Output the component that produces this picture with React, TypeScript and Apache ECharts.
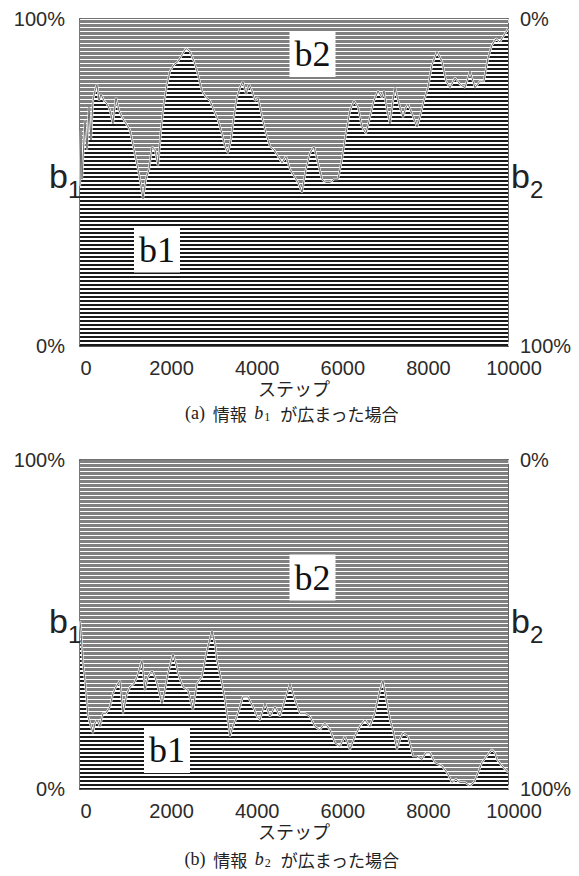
import React, { useEffect, useRef } from 'react';
import * as echarts from 'echarts';

// ---- data (step, share of b1 in %) ----
const xTicks = [0, 2000, 4000, 6000, 8000, 10000];
const yTicks = [0, 100];

const stepsA = [0, 23, 47, 117, 164, 210, 257, 304, 350, 397, 444, 491, 561, 631, 701, 771, 841, 911, 981, 1075, 1168, 1262, 1355, 1425, 1472, 1542, 1612, 1682, 1752, 1822, 1892, 1962, 2033, 2103, 2196, 2290, 2383, 2477, 2570, 2664, 2757, 2850, 2944, 3037, 3130, 3224, 3317, 3388, 3458, 3528, 3598, 3668, 3738, 3808, 3879, 3949, 4019, 4089, 4159, 4252, 4346, 4439, 4533, 4626, 4720, 4813, 4907, 5000, 5093, 5187, 5280, 5374, 5467, 5561, 5654, 5748, 5841, 5935, 6028, 6121, 6215, 6308, 6402, 6495, 6589, 6682, 6776, 6869, 6963, 7056, 7103, 7173, 7243, 7313, 7360, 7453, 7547, 7617, 7664, 7757, 7874, 7944, 8037, 8131, 8224, 8341, 8458, 8551, 8645, 8762, 8879, 8995, 9112, 9229, 9346, 9439, 9533, 9626, 9720, 9813, 9907, 10000];
const b1A = [49, 66, 51, 69, 60, 73, 63, 75, 78, 80, 75, 77, 75, 74, 72, 68, 76, 72, 70, 68, 66, 60, 54, 49, 45, 51, 54, 61, 60, 55, 66, 74, 80, 84, 86, 87, 89, 91, 90, 87, 83, 78, 76, 75, 72, 69, 65, 61, 59, 63, 70, 76, 79, 81, 77, 80, 78, 75, 76, 70, 65, 61, 60, 58, 56, 58, 54, 52, 50, 47, 54, 59, 61, 56, 51, 50, 50, 51, 51, 57, 65, 72, 75, 73, 67, 65, 70, 75, 78, 76, 78, 72, 68, 75, 79, 74, 70, 73, 74, 71, 67, 70, 75, 79, 86, 90, 87, 81, 79, 82, 80, 79, 84, 79, 81, 81, 88, 92, 94, 93, 95, 97];

const stepsB = [0, 23, 70, 117, 187, 257, 304, 350, 397, 467, 537, 607, 701, 771, 841, 934, 1005, 1098, 1168, 1262, 1332, 1448, 1518, 1588, 1682, 1752, 1799, 1916, 1986, 2056, 2173, 2243, 2290, 2406, 2523, 2640, 2733, 2850, 2967, 3084, 3154, 3200, 3317, 3388, 3504, 3574, 3668, 3808, 3925, 4042, 4135, 4205, 4322, 4439, 4555, 4672, 4789, 4906, 5022, 5139, 5256, 5373, 5490, 5606, 5723, 5840, 5957, 6074, 6190, 6307, 6424, 6541, 6658, 6774, 6891, 7008, 7078, 7172, 7242, 7312, 7405, 7475, 7545, 7662, 7779, 7872, 7989, 8083, 8176, 8293, 8456, 8573, 8690, 8783, 8877, 8994, 9110, 9204, 9274, 9391, 9508, 9624, 9694, 9741, 9858, 10000];
const b1B = [51, 48, 38, 33, 22, 19, 17, 20, 21, 19, 23, 23, 25, 29, 31, 33, 23, 29, 31, 32, 34, 39, 30, 34, 36, 34, 32, 26, 30, 35, 41, 38, 35, 31, 30, 24, 32, 34, 42, 48, 44, 39, 32, 27, 16, 19, 22, 28, 28, 25, 22, 21, 26, 22, 25, 22, 27, 32, 27, 23, 23, 22, 19, 18, 20, 18, 14, 13, 16, 12, 16, 19, 21, 19, 23, 30, 33, 26, 21, 18, 12, 15, 17, 16, 10, 10, 9, 11, 11, 8, 7, 5, 2, 3, 2, 2, 1, 2, 4, 8, 10, 12, 11, 9, 7, 5];

function stripe(rows: string[]) {
  const c = document.createElement('canvas');
  c.width = 4;
  c.height = rows.length;
  const ctx = c.getContext('2d')!;
  rows.forEach((col, i) => {
    ctx.fillStyle = col;
    ctx.fillRect(0, i, 4, 1);
  });
  return { image: c, repeat: 'repeat', imageWidth: 4, imageHeight: rows.length };
}

const labelFont = 'Liberation Sans';
const cjkFont = 'Noto Sans CJK JP';

export default function App() {
  const ref = useRef<HTMLDivElement>(null);
  useEffect(() => {
    if (!ref.current) return;
    const chart = echarts.init(ref.current, undefined, { renderer: 'svg' });
    const patDark = stripe(['#1a1a1a', '#1a1a1a', '#ffffff', '#ffffff']);
    const patGray = stripe(['#808080', '#808080', '#808080', '#ffffff']);

    const grids = [
      { left: 80, top: 19, width: 428, height: 327 },
      { left: 80, top: 460, width: 428, height: 329 },
    ];
    const xAxes: any[] = [];
    const yAxes: any[] = [];
    grids.forEach((_, gi) => {
      xAxes.push({
        type: 'value', gridIndex: gi, position: 'bottom', min: xTicks[0], max: xTicks[xTicks.length - 1],
        interval: xTicks[1] - xTicks[0],
        axisLine: { show: true, onZero: false, lineStyle: { color: '#222', width: 1.5 } },
        axisTick: { show: true, inside: true, length: 4, lineStyle: { color: '#d8d8d8' } },
        axisLabel: {
          fontSize: 20, color: '#2b2b2b', fontFamily: labelFont, margin: 12, padding: [0, 0, 0, 12],
          formatter: (v: number) => String(v),
        },
        splitLine: { show: false },
        name: 'ステップ', nameLocation: 'middle', nameGap: 32,
        nameTextStyle: { fontSize: 18, color: '#222', fontFamily: cjkFont },
      });
      xAxes.push({
        type: 'value', gridIndex: gi, position: 'top', min: xTicks[0], max: xTicks[xTicks.length - 1],
        interval: xTicks[1] - xTicks[0],
        axisLine: { show: true, onZero: false, lineStyle: { color: '#444', width: 1.5 } },
        axisTick: { show: true, inside: true, length: 4, lineStyle: { color: '#d8d8d8' } },
        axisLabel: { show: false }, splitLine: { show: false },
      });
      yAxes.push({
        type: 'value', gridIndex: gi, position: 'left', min: yTicks[0], max: yTicks[1], interval: 100,
        axisLine: { show: true, onZero: false, lineStyle: { color: '#777', width: 2 } },
        axisTick: { show: false },
        axisLabel: { fontSize: 20, color: '#2b2b2b', fontFamily: labelFont, margin: 15, formatter: '{value}%' },
        splitLine: { show: false },
      });
      yAxes.push({
        type: 'value', gridIndex: gi, position: 'right', inverse: true, min: yTicks[0], max: yTicks[1], interval: 100,
        axisLine: { show: true, onZero: false, lineStyle: { color: '#333', width: 1.5 } },
        axisTick: { show: false },
        axisLabel: { fontSize: 20, color: '#2b2b2b', fontFamily: labelFont, margin: 12, formatter: '{value}%' },
        splitLine: { show: false },
      });
    });

    const sets = [
      { steps: stepsA, b1: b1A },
      { steps: stepsB, b1: b1B },
    ];
    const series: any[] = [];
    sets.forEach((s, gi) => {
      const d1 = s.steps.map((x, i) => [x, s.b1[i]]);
      // b1 + b2 = 100 everywhere: the b2 share fills from the b1 curve up to 100%
      const dTotal = s.steps.map((x, i) => [x, s.b1[i] + (100 - s.b1[i])]);
      const ax = { xAxisIndex: gi * 2, yAxisIndex: gi * 2 };
      series.push({
        type: 'line', ...ax, name: 'b2', data: dTotal, symbol: 'none', silent: true,
        lineStyle: { width: 0, opacity: 0 }, areaStyle: { color: patGray, opacity: 1 }, z: 1,
      });
      series.push({
        type: 'line', ...ax, name: 'b1', data: d1, symbol: 'none', silent: true,
        lineStyle: { width: 0, opacity: 0 }, areaStyle: { color: patDark, opacity: 1 }, z: 2,
      });
      series.push({
        type: 'line', ...ax, data: d1, symbol: 'none', silent: true,
        lineStyle: { color: '#ffffff', width: 2.2 }, z: 3,
      });
      series.push({
        type: 'line', ...ax, data: d1, symbol: 'none', silent: true,
        lineStyle: { color: '#6a6a6a', width: 1 }, z: 4,
      });
    });

    const sideLabels = (dy: number) => [
      { type: 'text', x: 49, y: 176 + dy, z: 10, style: { text: 'b', fontSize: 34, fontFamily: labelFont, fill: '#222', verticalAlign: 'middle' } },
      { type: 'text', x: 68, y: 189 + dy, z: 10, style: { text: '1', fontSize: 24, fontFamily: labelFont, fill: '#222', verticalAlign: 'middle' } },
      { type: 'text', x: 511, y: 176 + dy, z: 10, style: { text: 'b', fontSize: 34, fontFamily: labelFont, fill: '#222', verticalAlign: 'middle' } },
      { type: 'text', x: 530, y: 189 + dy, z: 10, style: { text: '2', fontSize: 24, fontFamily: labelFont, fill: '#222', verticalAlign: 'middle' } },
    ];
    const box = (t: string, x: number, y: number) => ({
      type: 'text', x, y, z: 10,
      style: {
        text: t, fontSize: 36, fontFamily: 'Liberation Serif', fill: '#111', align: 'center', verticalAlign: 'middle',
        backgroundColor: '#fff', padding: [5, 5, 5, 5],
      },
    });
    const caption = (tag: string, sub: string, y: number) => ({
      type: 'text', x: 292, y, z: 10,
      style: {
        text: `{p|(${tag})}{j|  情報  }{i|b}{s|${sub}}{j|  が広まった場合}`,
        align: 'center', verticalAlign: 'middle', fill: '#222',
        rich: {
          p: { fontFamily: 'Liberation Serif', fontSize: 18, fill: '#222' },
          j: { fontFamily: cjkFont, fontSize: 17, fill: '#222' },
          i: { fontFamily: 'Liberation Serif', fontStyle: 'italic', fontSize: 18, fill: '#222' },
          s: { fontFamily: 'Liberation Serif', fontSize: 12, fill: '#222', padding: [8, 2, 0, 1] },
        },
      },
    });

    chart.setOption({
      animation: false,
      backgroundColor: '#fff',
      grid: grids.map((g) => ({ ...g, containLabel: false, outerBoundsMode: 'none' })),
      xAxis: xAxes,
      yAxis: yAxes,
      series,
      graphic: [
        ...sideLabels(0),
        ...sideLabels(445),
        box('b2', 312.5, 54),
        box('b1', 157, 249.5),
        box('b2', 312.5, 577.5),
        box('b1', 167, 750),
        caption('a', '1', 413),
        caption('b', '2', 859),
      ],
    });
    return () => chart.dispose();
  }, []);
  return <div ref={ref} style={{ position: 'absolute', left: 0, top: 0, width: 579, height: 876 }} />;
}
